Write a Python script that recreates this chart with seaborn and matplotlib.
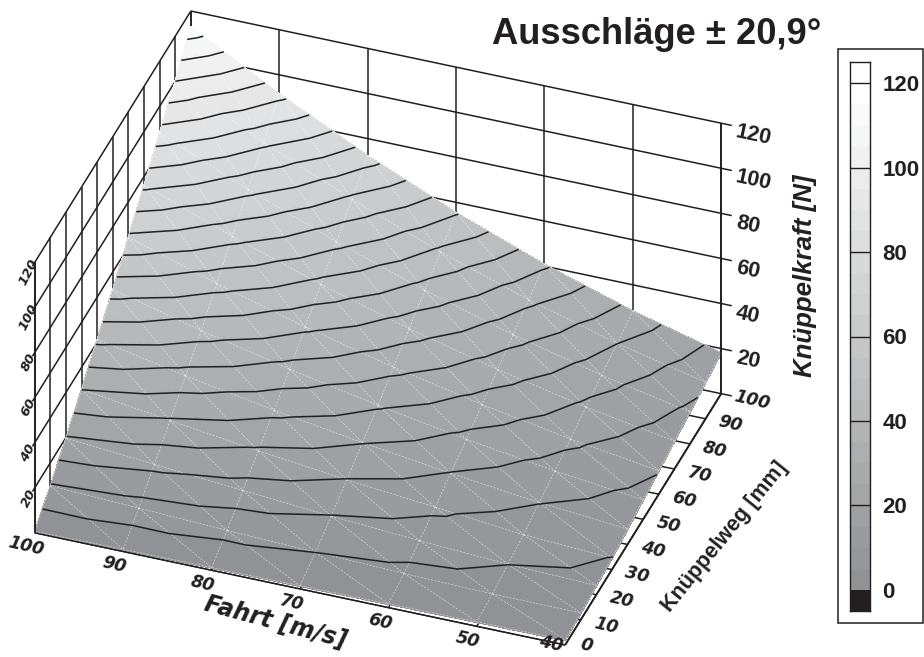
import numpy as np
import seaborn as sns
import matplotlib
matplotlib.use('Agg')
import matplotlib.pyplot as plt
import matplotlib.tri as mtri
from matplotlib.colors import BoundaryNorm, ListedColormap
from matplotlib.patches import Rectangle
from mpl_toolkits.mplot3d import proj3d

# data
fahrt = [40, 50, 60, 70, 80, 90, 100]
weg = [0, 10, 20, 30, 40, 50, 60, 70, 80, 90, 100]
kraft = [
    [2.0, 1.8, 1.5, 1.2, 1.0, 0.8, 0.5],
    [2.9, 3.0, 3.8, 5.0, 6.3, 7.9, 9.5],
    [3.9, 5.0, 7.2, 9.8, 12.9, 16.2, 19.5],
    [4.9, 7.0, 10.9, 14.8, 19.3, 24.5, 30.0],
    [6.6, 10.1, 14.8, 20.1, 26.2, 33.2, 41.0],
    [8.5, 13.0, 18.7, 25.5, 33.3, 42.1, 52.0],
    [10.2, 16.0, 23.0, 31.3, 40.9, 51.8, 64.0],
    [12.2, 19.0, 27.4, 37.2, 48.6, 61.6, 76.0],
    [14.0, 22.0, 31.7, 43.1, 56.3, 71.3, 88.0],
    [16.0, 25.0, 36.0, 49.0, 64.0, 81.0, 100.0],
    [18.0, 28.3, 40.7, 55.4, 72.3, 91.5, 113.0],
]
fahrt_ticks = [100, 90, 80, 70, 60, 50, 40]
weg_ticks = [0, 10, 20, 30, 40, 50, 60, 70, 80, 90, 100]
kraft_ticks = [20, 40, 60, 80, 100, 120]
bar_ticks = [0, 20, 40, 60, 80, 100, 120]
levels = list(range(0, 130, 5))

sns.set_style('white')
plt.rcParams['font.family'] = ['Liberation Sans', 'DejaVu Sans']
ink = '#231f20'

fig = plt.figure(figsize=(9.24, 6.57), dpi=100)
W, H = 924, 657

# grey steps of the surface and the bar
greys = sns.blend_palette(['#909295', '#ffffff'], 24) + ['#ffffff']
cmap = ListedColormap(greys)
cmap.set_under(ink)
norm = BoundaryNorm(levels, cmap.N)

L = 776
left, bottom = -20.5, -69.5
ax = fig.add_axes([left / W, bottom / H, L / W, L / H], projection='3d', computed_zorder=False)
ax.set_proj_type('ortho')
ax.view_init(elev=35.7, azim=-70.08)
ax.set_box_aspect((564, 458, 333))
ax.set_xlim(100, 40)
ax.set_ylim(0, 100)
ax.set_zlim(0, 120)
ax.set_axis_off()
ax.patch.set_visible(False)

# triangles of the mesh
nv, ns = len(fahrt), len(weg)
V, S = np.meshgrid(fahrt, weg)
Z = np.array(kraft)
triangles = []
for j in range(ns - 1):
    for i in range(nv - 1):
        a = j * nv + i
        triangles.append([a, a + 1, a + nv + 1])
        triangles.append([a, a + nv + 1, a + nv])
tri = mtri.Triangulation(V.ravel(), S.ravel(), triangles)

# walls and floor, behind the surface
def line(xs, ys, zs, z=1, lw=1.1):
    ax.plot(xs, ys, zs, color=ink, lw=lw, zorder=z, solid_capstyle='butt')

for k in kraft_ticks:
    line([38.8, 100], [100, 100], [k, k])
    line([100, 100], [-1.5, 100], [k, k])
for t in fahrt_ticks:
    line([t, t], [100, 100], [0, 120])
    line([t, t], [0, 100], [0, 0])
for t in weg_ticks:
    line([100, 100], [t, t], [0, 120])
    line([100, 40], [t, t], [0, 0])
line([38.8, 40], [100, 100], [0, 0])

refiner = mtri.UniformTriRefiner(tri)
fine_tri, fine_z = refiner.refine_field(Z.ravel(), triinterpolator=mtri.LinearTriInterpolator(tri, Z.ravel()), subdiv=4)
surf = ax.plot_trisurf(fine_tri, fine_z, cmap=cmap, norm=norm, linewidth=0.5,
                       antialiased=False, shade=False, zorder=2)
surf.set_edgecolor('face')

# white mesh lines
for a, b in tri.edges:
    ax.plot([V.ravel()[a], V.ravel()[b]], [S.ravel()[a], S.ravel()[b]], [Z.ravel()[a] + 0.2, Z.ravel()[b] + 0.2],
            color='white', lw=0.5, ls=(0, (3, 2)), alpha=0.6, zorder=3)

ax.tricontour(tri, Z.ravel(), levels=levels[1:], colors=ink, linewidths=1.1, zorder=4)

# front edges
line([100, 40], [0, 0], [0, 0], z=5, lw=0.9)
line([40, 40], [0, 100], [0, 0], z=5, lw=1.3)
line([100, 100], [0, 0], [0, 120], z=5, lw=1.3)
line([40, 40], [100, 100], [0, 120], z=5, lw=1.3)

# tick labels
def label(v, s, k, text, style='italic', **kw):
    px, py, _ = proj3d.proj_transform(v, s, k, ax.get_proj())
    ax.text2D(px, py, text, va='center', color=ink, weight='bold', style=style, rotation_mode='anchor', **kw)

wide = ['DejaVu Sans']
for t in fahrt_ticks:
    if t == 40:
        label(41.5, -0.5, 0, str(t), family=wide, fontsize=12.5, rotation=-13, ha='center')
    else:
        label(t, -5.5, 0, str(t), family=wide, fontsize=12.5, rotation=-13, ha='center')
for t in weg_ticks:
    if t == 0:
        label(38.5, 1.5, 0, str(t), family=wide, fontsize=12.5, rotation=-13, ha='left')
    else:
        label(38.5, t, 0, str(t), family=wide, fontsize=12.5, rotation=-13, ha='left')
for k in kraft_ticks:
    label(38.3, 100, k - 2.5, str(k), style='normal', fontsize=15.5, rotation=-12, ha='left')
    label(100, -4, k, str(k), family=wide, fontsize=9.5, rotation=63, ha='center')

fig.text(657 / W, 1 - 35 / H, 'Ausschläge ± 20,9°', weight='bold', fontsize=26.2, ha='center', va='center', color=ink)
fig.text(275 / W, 1 - 622 / H, 'Fahrt [m/s]', family=wide, weight='bold', style='italic', fontsize=17, rotation=-15,
         ha='center', va='center', color=ink)
fig.text(725 / W, 1 - 537 / H, 'Knüppelweg [mm]', weight='bold', fontsize=15.5, rotation=51,
         ha='center', va='center', color=ink)
fig.text(805 / W, 1 - 276 / H, 'Knüppelkraft [N]', weight='bold', style='italic', fontsize=18.6, rotation=90,
         ha='center', va='center', color=ink)

# colour bar in its frame
fig.add_artist(Rectangle((838 / W, 1 - 623 / H), 85 / W, 574 / H, transform=fig.transFigure,
                         facecolor='none', edgecolor=ink, lw=1.1))
cax = fig.add_axes([850 / W, 1 - 611 / H, 20 / W, 549 / H])
cells = np.array([[v + 2.5] for v in range(120, -10, -5)])
sns.heatmap(cells, cmap=cmap, norm=norm, cbar=False, ax=cax, xticklabels=False, yticklabels=False)
for sp in cax.spines.values():
    sp.set_visible(True)
    sp.set_color(ink)
    sp.set_linewidth(1.0)
pos = [(125 - b) / 5 for b in bar_ticks]
cax.hlines(pos[1:], 0, 1, color=ink, lw=1.0)
cax.yaxis.tick_right()
cax.set_yticks(pos)
cax.set_yticklabels([str(b) for b in bar_ticks], fontsize=16, fontweight='bold', color=ink, rotation=0)
cax.tick_params(axis='y', length=0, pad=9)

fig.savefig('out.png', dpi=100)
